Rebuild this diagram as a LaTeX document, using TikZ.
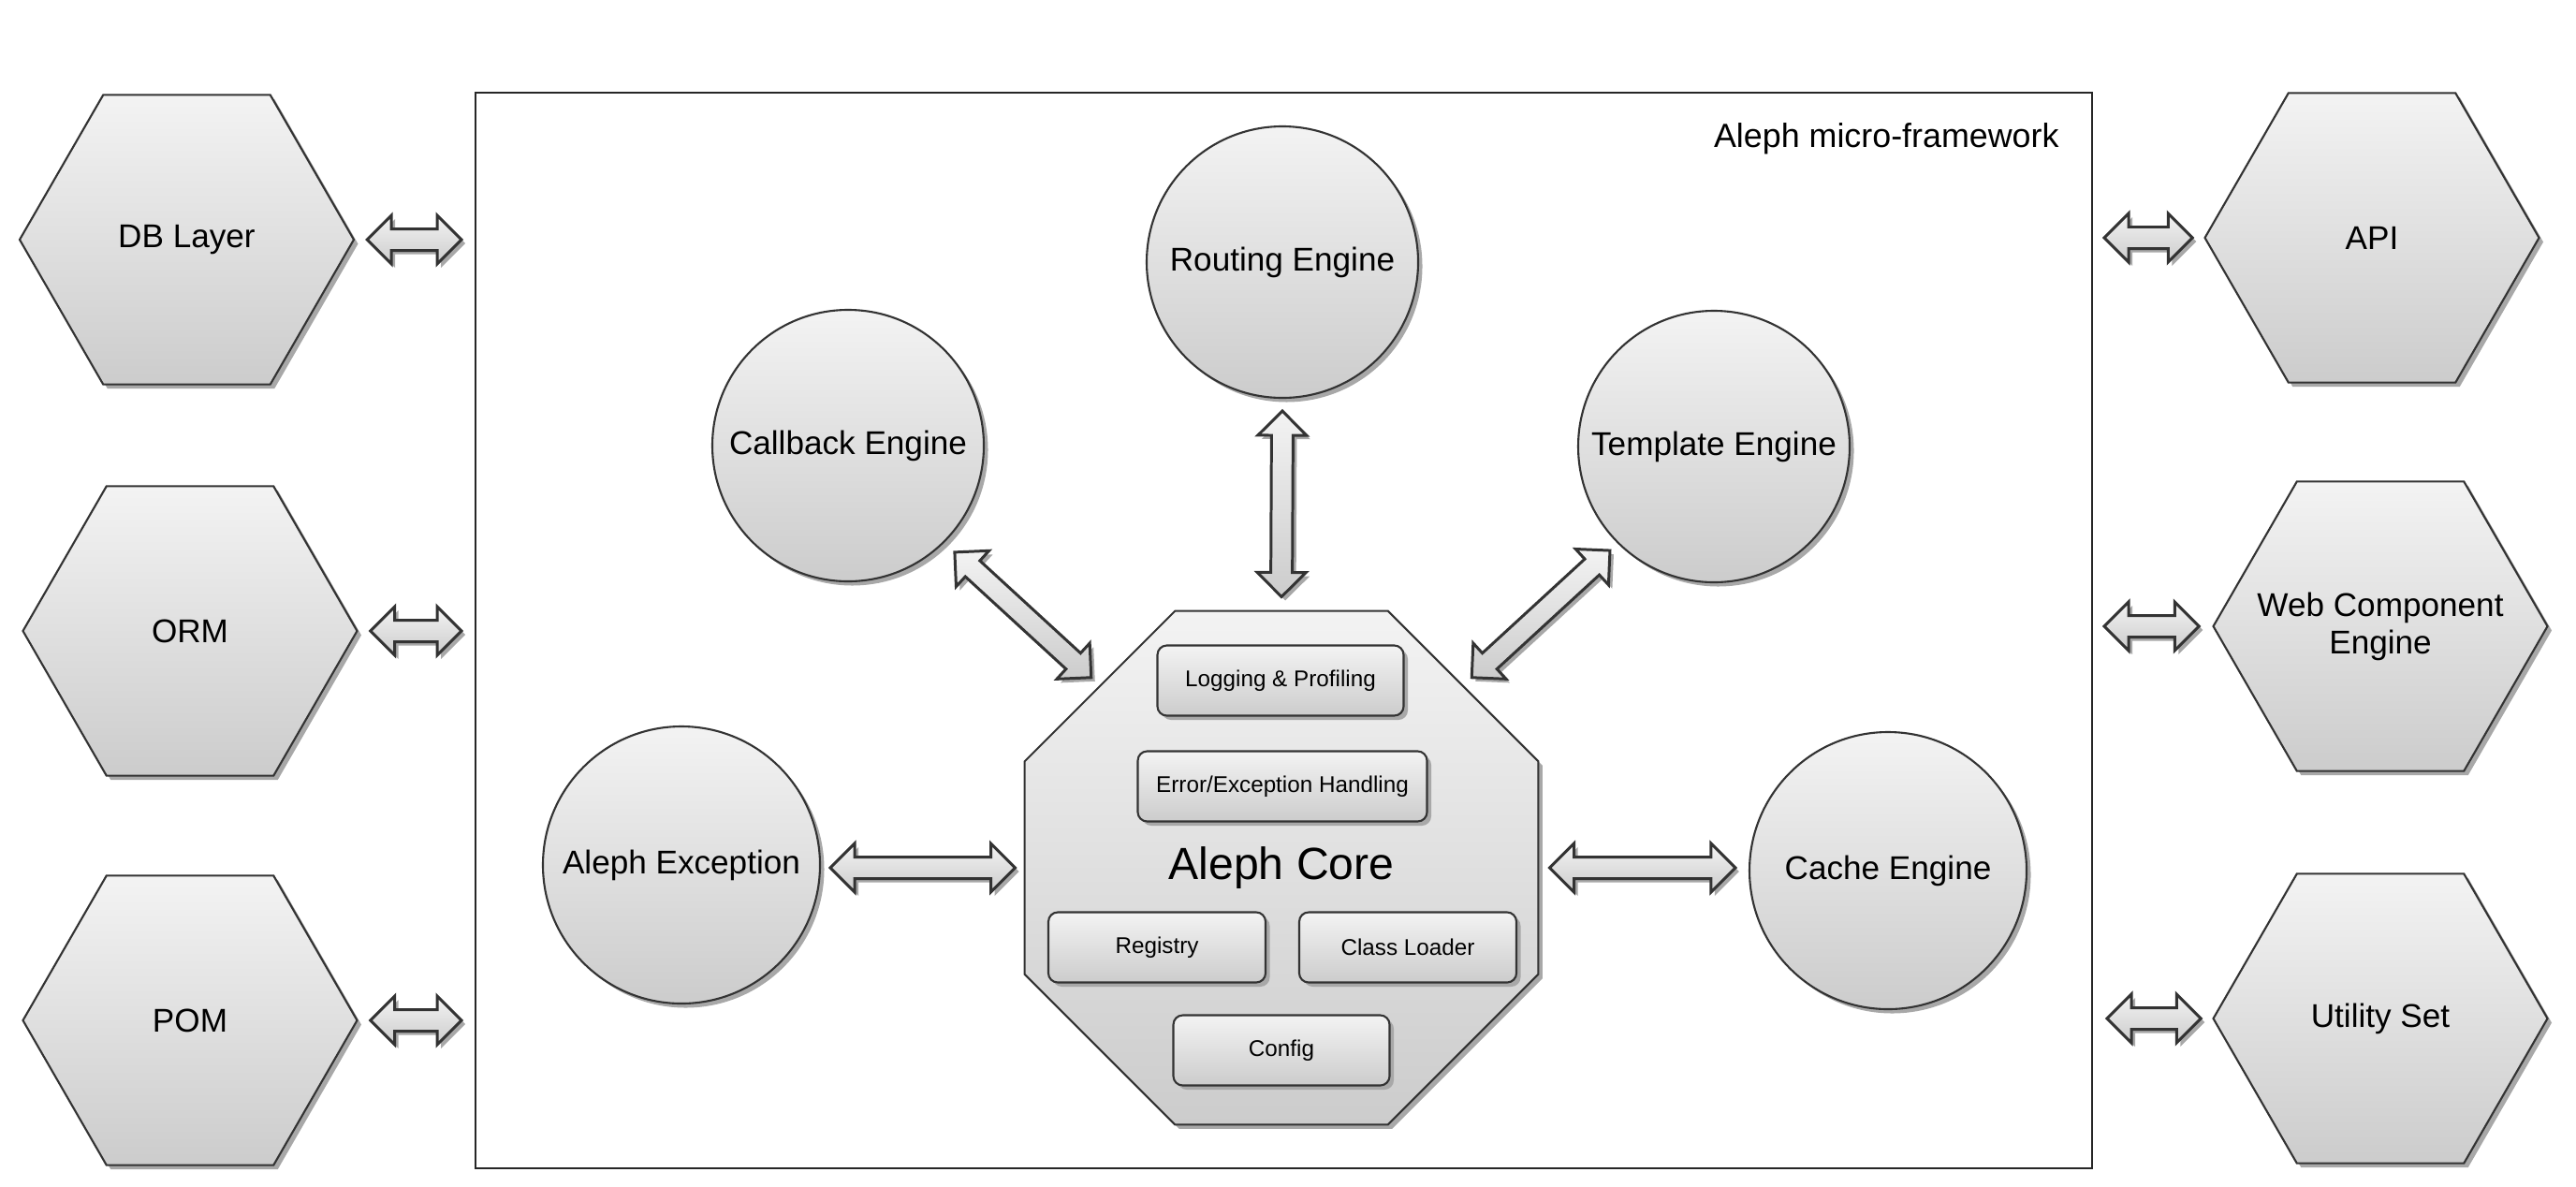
\documentclass[tikz,border=0pt]{standalone}
\usepackage{fontspec}
\setmainfont{Liberation Sans}
\usetikzlibrary{shapes.geometric,shadows,calc}

\definecolor{linegray}{HTML}{333333}
\definecolor{shadetop}{HTML}{F3F3F3}
\definecolor{shadebot}{HTML}{CCCCCC}
\definecolor{shadowgray}{HTML}{A8A8A8}
\newcommand\headlen{0.26}
\newcommand\headwd{0.26}
\newcommand\shaftwd{0.115}

\begin{document}
\begin{tikzpicture}
    \tikzstyle{part} = [draw=linegray, line width=0.6pt, top color=shadetop, bottom color=shadebot,
      drop shadow={shadow xshift=0.045cm, shadow yshift=-0.045cm, fill=shadowgray, opacity=1},
      inner sep=0pt, align=center, font=\fontsize{10}{11.4}\selectfont]
    \tikzstyle{hexbox} = [part, regular polygon, regular polygon sides=6, minimum size=3.57cm]
    \tikzstyle{enginebox} = [part, circle, minimum size=2.9cm]
    \tikzstyle{octa} = [part, regular polygon, regular polygon sides=8, minimum size=5.94cm,
      font=\fontsize{13.7}{16}\selectfont]
    \tikzstyle{subbox} = [part, rounded corners=0.1cm, minimum height=0.75cm, font=\fontsize{6.9}{8}\selectfont]
    \tikzstyle{dbl} = [draw=linegray, line width=0.85pt, line join=miter, top color=shadetop, bottom color=shadebot,
      drop shadow={shadow xshift=0.04cm, shadow yshift=-0.04cm, fill=shadowgray, opacity=1},
      to path={let \p1=(\tikztostart), \p2=(\tikztotarget), \n1={atan2(\y2-\y1,\x2-\x1)} in
        (\p1) -- ($(\p1)+(\n1:\headlen)+({\n1+90}:\headwd)$)
        -- ($(\p1)+(\n1:\headlen)+({\n1+90}:\shaftwd)$)
        -- ($(\p2)+({\n1+180}:\headlen)+({\n1+90}:\shaftwd)$)
        -- ($(\p2)+({\n1+180}:\headlen)+({\n1+90}:\headwd)$)
        -- (\p2)
        -- ($(\p2)+({\n1+180}:\headlen)+({\n1-90}:\headwd)$)
        -- ($(\p2)+({\n1+180}:\headlen)+({\n1-90}:\shaftwd)$)
        -- ($(\p1)+(\n1:\headlen)+({\n1-90}:\shaftwd)$)
        -- ($(\p1)+(\n1:\headlen)+({\n1-90}:\headwd)$)
        -- cycle}]
    \useasboundingbox (0,0) rectangle (27.52,-12.67);
    % framework box
    \node [draw=black!85, line width=0.55pt, minimum width=17.27cm, minimum height=11.49cm] (frame) at (13.715,-6.735) {};
    \node [anchor=east, font=\fontsize{10.2}{11.4}\selectfont] (fwlabel) at (22.12,-1.48) {Aleph micro-framework};
    % outer layers
    \node [hexbox] (db) at (1.995,-2.56) {DB Layer};
    \node [hexbox] (orm) at (2.03,-6.74) {ORM};
    \node [hexbox] (pom) at (2.03,-10.90) {POM};
    \node [hexbox] (api) at (25.34,-2.54) {API};
    \node [hexbox, label={[align=center, font=\fontsize{10}{11.4}\selectfont]center:Web Component\\Engine}] (web) at (25.43,-6.69) {};
    \node [hexbox] (util) at (25.43,-10.88) {Utility Set};
    % engines
    \node [enginebox] (routing) at (13.70,-2.80) {Routing Engine};
    \node [enginebox] (callback) at (9.06,-4.76) {Callback Engine};
    \node [enginebox] (template) at (18.31,-4.77) {Template Engine};
    \node [enginebox, minimum size=2.96cm] (exception) at (7.28,-9.24) {Aleph Exception};
    \node [enginebox, minimum size=2.96cm] (cache) at (20.17,-9.30) {Cache Engine};
    % core
    \node [octa] (core) at (13.69,-9.27) {Aleph Core};
    \node [subbox, minimum width=2.63cm] (logging) at (13.68,-7.27) {Logging \& Profiling};
    \node [subbox, minimum width=3.09cm] (errors) at (13.70,-8.40) {Error/Exception Handling};
    \node [subbox, minimum width=2.32cm] (registry) at (12.36,-10.12) {Registry};
    \node [subbox, minimum width=2.32cm] (loader) at (15.04,-10.12) {Class Loader};
    \node [subbox, minimum width=2.31cm] (config) at (13.69,-11.22) {Config};
    % arrows
    \draw [dbl] ($(db.east)+(0.13,0)$) to ($(db.east -| frame.west)+(-0.14,0)$);
    \draw [dbl] ($(orm.east)+(0.13,0)$) to ($(orm.east -| frame.west)+(-0.14,0)$);
    \draw [dbl] ($(pom.east)+(0.13,0)$) to ($(pom.east -| frame.west)+(-0.14,0)$);
    \draw [dbl] ($(api.west -| frame.east)+(0.12,0)$) to ($(api.west)+(-0.12,0)$);
    \draw [dbl] ($(web.west -| frame.east)+(0.12,0)$) to ($(web.west)+(-0.14,0)$);
    \draw [dbl] ($(util.west -| frame.east)+(0.15,0)$) to ($(util.west)+(-0.12,0)$);
    \draw [dbl] ($(routing.south)+(0,-0.13)$) to ($(core.north)+(0,0.14)$);
    \draw [dbl] ($(callback.-45)+(-45:0.15)$) to ($(core.135)+(135:0.12)$);
    \draw [dbl] ($(template.-135)+(-135:0.11)$) to ($(core.45)+(45:0.12)$);
    \draw [dbl] ($(exception.east |- core.west)+(0.10,0)$) to ($(core.west)+(-0.09,0)$);
    \draw [dbl] ($(core.east)+(0.11,0)$) to ($(cache.west |- core.east)+(-0.14,0)$);
  \end{tikzpicture}
\end{document}
